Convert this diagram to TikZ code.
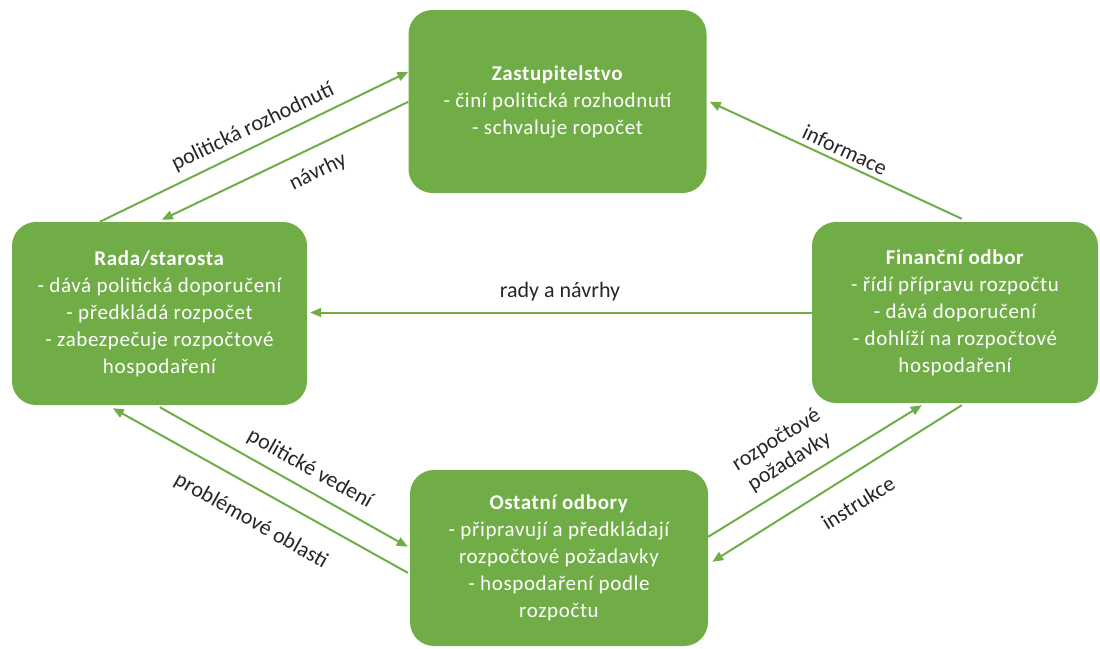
\documentclass[tikz,border=0pt]{standalone}
\usepackage{fontspec}
\setmainfont{Carlito}[LetterSpace=3]
\newfontfamily\lblfont{Carlito}
\usetikzlibrary{arrows.meta,calc}
\definecolor{grn}{HTML}{70AD47}
\definecolor{lblc}{HTML}{262626}
\begin{document}
\begin{tikzpicture}[x=1pt,y=-1pt,
 box/.style={draw=none,fill=grn,rounded corners=24pt,text=white,align=center,font=\fontsize{21}{27}\selectfont,inner sep=0pt},
 arr/.style={draw=grn,line width=2pt,-{Triangle[length=11pt,width=9pt]}},
 lbl/.style={text=lblc,font=\lblfont\fontsize{22}{25}\selectfont,inner sep=0pt,align=center}]
\useasboundingbox (0,0) rectangle (1100,648);
\node[box,minimum width=298pt,minimum height=183pt] (Z) at (557.5,101.5)
  {\textbf{Zastupitelstvo}\\- činí politická rozhodnutí\\- schvaluje ropočet};
\node[box,minimum width=295pt,minimum height=183pt] (R) at (159.5,313.5)
  {\textbf{Rada/starosta}\\- dává politická doporučení\\- předkládá rozpočet\\- zabezpečuje rozpočtové\\hospodaření};
\node[box,minimum width=286pt,minimum height=181pt] (F) at (955,312.5)
  {\textbf{Finanční odbor}\\- řídí přípravu rozpočtu\\- dává doporučení\\- dohlíží na rozpočtové\\hospodaření};
\node[box,minimum width=298pt,minimum height=176pt] (O) at (559,558)
  {\textbf{Ostatní odbory}\\- připravují a předkládají\\rozpočtové požadavky\\- hospodaření podle\\rozpočtu};
% connectors
\draw[arr] ($(R.north west)+(88,0)$) -- ($(Z.north west)+(0,62)$);
\draw[arr] ($(Z.north west)+(0,92)$) -- ($(R.north west)+(150,-2)$);
\draw[arr] ($(F.north west)+(150,-3)$) -- ($(Z.north east)+(3,92)$);
\draw[arr] (F.west) -- ($(F.west -| R.east)+(3,0)$);
\draw[arr] ($(R.south west)+(148,2)$) -- ($(O.north west)+(-2,77)$);
\draw[arr] ($(O.north west)+(-2,103)$) -- ($(R.south west)+(101,3)$);
\draw[arr] ($(O.north east)+(0,67)$) -- ($(F.south west)+(110,2)$);
\draw[arr] ($(F.south west)+(150,2)$) -- ($(O.north east)+(4,92)$);
% labels
\node[lbl,rotate=25.7] (l1) at (253,127) {politická rozhodnutí};
\node[lbl,rotate=25.7] (l2) at (318,172) {návrhy};
\node[lbl,rotate=-24.9] (l3) at (845,150) {informace};
\node[lbl] (l4) at (560,292) {rady a návrhy};
\node[lbl,rotate=-29.4] (l5) at (310,469) {politické vedení};
\node[lbl,rotate=-29.4] (l6) at (251,521) {problémové oblasti};
\node[lbl,rotate=31.7] (l7) at (783,451) {rozpočtové\\požadavky};
\node[lbl,rotate=31.7] (l8) at (858,503) {instrukce};
\end{tikzpicture}
\end{document}
